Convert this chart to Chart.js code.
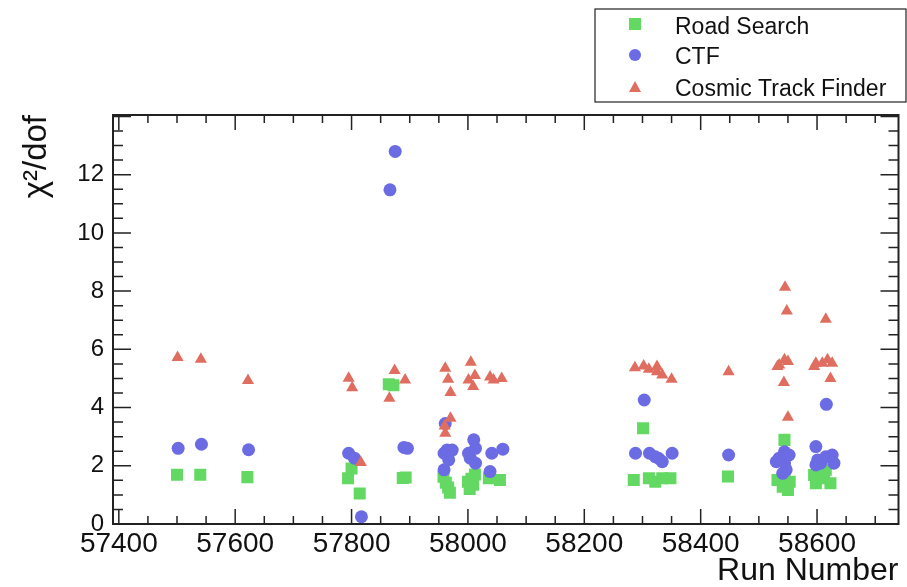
<!DOCTYPE html>
<html lang="en">
<head>
<meta charset="UTF-8">
<title>Track fit chi2/dof per run</title>
<script src="https://cdn.jsdelivr.net/npm/chart.js"></script>
<style>
  html, body { margin: 0; padding: 0; background: white; }
  #chart { display: block; }
</style>
</head>
<body>
<canvas id="chart" width="907" height="587"></canvas>
<script>
// values
const roadRuns = [57500, 57540, 57621, 57794, 57800, 57814, 57864, 57872, 57888, 57893,
  57958, 57962, 57966, 57969, 58000, 58003, 58006, 58009, 58012, 58036, 58055,
  58285, 58301, 58311, 58322, 58334, 58348, 58447,
  58532, 58541, 58544, 58544, 58550, 58553, 58595, 58598, 58612, 58615, 58623];
const roadChi2 = [1.69, 1.69, 1.61, 1.57, 1.91, 1.05, 4.80, 4.77, 1.58, 1.60,
  1.62, 1.42, 1.25, 1.07, 1.45, 1.20, 1.55, 1.35, 1.70, 1.57, 1.51,
  1.51, 3.29, 1.57, 1.45, 1.57, 1.57, 1.63,
  1.51, 1.28, 2.89, 1.63, 1.17, 1.45, 1.68, 1.40, 1.57, 1.86, 1.40];

const ctfRuns = [57502, 57542, 57623, 57795, 57805, 57817, 57866, 57875, 57890, 57896,
  57961, 57959, 57964, 57973, 57967, 57959, 58010, 58013, 58001, 58004, 58013, 58041, 58060, 58038,
  58288, 58303, 58312, 58322, 58328, 58334, 58351, 58448,
  58530, 58535, 58544, 58552, 58544, 58547, 58541,
  58598, 58601, 58606, 58598, 58615, 58616, 58626, 58629];
const ctfChi2 = [2.60, 2.74, 2.55, 2.43, 2.26, 0.25, 11.48, 12.80, 2.63, 2.60,
  3.45, 2.43, 2.54, 2.54, 2.20, 1.86, 2.89, 2.60, 2.43, 2.26, 2.09, 2.43, 2.57, 1.80,
  2.43, 4.26, 2.43, 2.31, 2.25, 2.14, 2.43, 2.37,
  2.14, 2.26, 2.48, 2.37, 2.09, 1.86, 1.74,
  2.66, 2.20, 2.09, 2.03, 2.31, 4.11, 2.37, 2.09];

const cosmicRuns = [57501, 57541, 57622, 57795, 57801, 57816, 57865, 57874, 57892,
  57960, 57961, 57970, 57961, 57966, 57970, 58005, 58001, 58012, 58009, 58038, 58044, 58058,
  58287, 58302, 58311, 58325, 58325, 58334, 58350, 58448,
  58532, 58535, 58544, 58550, 58543, 58550, 58545, 58548,
  58595, 58598, 58609, 58618, 58626, 58623, 58615];
const cosmicChi2 = [5.72, 5.66, 4.93, 5.01, 4.68, 2.11, 4.32, 5.27, 4.95,
  3.37, 3.12, 3.63, 5.35, 4.97, 4.52, 5.56, 4.95, 5.10, 4.72, 5.05, 4.95, 5.00,
  5.37, 5.43, 5.32, 5.41, 5.23, 5.12, 4.97, 5.23,
  5.41, 5.46, 5.64, 5.58, 4.86, 3.67, 8.13, 7.32,
  5.41, 5.52, 5.52, 5.64, 5.52, 5.00, 7.03];

const seriesNames = ['Road Search', 'CTF', 'Cosmic Track Finder'];
const xTickValues = [57400, 57600, 57800, 58000, 58200, 58400, 58600];
const yTickValues = [0, 2, 4, 6, 8, 10, 12];

const GREEN = 'rgb(99,217,99)';
const BLUE = 'rgb(107,107,227)';
const RED = 'rgb(224,110,96)';
const FONT = "'Liberation Sans', Arial, Helvetica, sans-serif";

function toPoints(runs, vals) {
  return runs.map((r, i) => ({ x: r, y: vals[i] }));
}

// ROOT-like frame with ticks on all four sides
const framePlugin = {
  id: 'frame',
  afterDatasetsDraw(chart) {
    const { ctx, chartArea: a, scales: { x, y } } = chart;
    ctx.save();
    ctx.strokeStyle = '#222';
    ctx.lineWidth = 2;
    ctx.strokeRect(a.left, a.top, a.right - a.left, a.bottom - a.top);
    ctx.lineWidth = 1.5;
    ctx.beginPath();
    for (let v = 57400; v <= x.max; v += 50) {
      const px = x.getPixelForValue(v);
      const len = v % 200 === 0 ? 15 : 8;
      ctx.moveTo(px, a.bottom); ctx.lineTo(px, a.bottom - len);
      ctx.moveTo(px, a.top); ctx.lineTo(px, a.top + len);
    }
    for (let v = 0; v <= y.max + 0.001; v += 0.5) {
      const py = y.getPixelForValue(v);
      const len = v % 2 === 0 ? 18 : 10;
      ctx.moveTo(a.left, py); ctx.lineTo(a.left + len, py);
      ctx.moveTo(a.right, py); ctx.lineTo(a.right - len, py);
    }
    ctx.stroke();
    ctx.restore();
  }
};

// boxed legend, top right
const legendPlugin = {
  id: 'boxLegend',
  afterDraw(chart) {
    const ctx = chart.ctx;
    ctx.save();
    ctx.fillStyle = 'white';
    ctx.fillRect(595, 9, 311, 93);
    ctx.strokeStyle = '#222';
    ctx.lineWidth = 1.2;
    ctx.strokeRect(595, 9, 311, 93);

    const mx = 635;
    ctx.fillStyle = GREEN;
    ctx.fillRect(mx - 6, 24 - 6, 12, 12);
    ctx.fillStyle = BLUE;
    ctx.beginPath(); ctx.arc(mx, 55, 6, 0, Math.PI * 2); ctx.fill();
    ctx.fillStyle = RED;
    ctx.beginPath();
    ctx.moveTo(mx, 81); ctx.lineTo(mx + 6, 92); ctx.lineTo(mx - 6, 92); ctx.closePath();
    ctx.fill();

    ctx.fillStyle = '#111';
    ctx.font = '23px ' + FONT;
    ctx.textBaseline = 'alphabetic';
    ctx.fillText(seriesNames[0], 675, 34);
    ctx.fillText(seriesNames[1], 675, 64);
    ctx.fillText(seriesNames[2], 675, 96);
    ctx.restore();
  }
};

new Chart(document.getElementById('chart'), {
  type: 'scatter',
  data: {
    datasets: [
      {
        label: seriesNames[0],
        data: toPoints(roadRuns, roadChi2),
        pointStyle: 'rect',
        pointRadius: 8.5,
        backgroundColor: GREEN,
        borderWidth: 0,
        order: 3
      },
      {
        label: seriesNames[1],
        data: toPoints(ctfRuns, ctfChi2),
        pointStyle: 'circle',
        pointRadius: 6.5,
        backgroundColor: BLUE,
        borderWidth: 0,
        order: 2
      },
      {
        label: seriesNames[2],
        data: toPoints(cosmicRuns, cosmicChi2),
        pointStyle: 'triangle',
        pointRadius: 7,
        backgroundColor: RED,
        borderWidth: 0,
        order: 1
      }
    ]
  },
  options: {
    responsive: false,
    animation: false,
    events: [],
    layout: { padding: { top: 115, right: 2, left: 0, bottom: 0 } },
    plugins: {
      legend: { display: false },
      tooltip: { enabled: false }
    },
    scales: {
      x: {
        type: 'linear',
        min: 57390,
        max: 58740,
        afterFit(s) { s.height = 63; },
        afterBuildTicks(s) { s.ticks = xTickValues.map(v => ({ value: v })); },
        grid: { display: false, drawTicks: false },
        border: { display: false },
        ticks: {
          autoSkip: false,
          maxRotation: 0,
          padding: 3,
          color: '#111',
          font: { family: FONT, size: 28 },
          callback: v => String(v)
        },
        title: {
          display: true,
          text: 'Run Number',
          align: 'end',
          color: '#111',
          font: { family: FONT, size: 32, lineHeight: 1 },
          padding: { top: 0, bottom: 0 }
        }
      },
      y: {
        type: 'linear',
        min: 0,
        max: 14.05,
        afterFit(s) { s.width = 113; },
        afterBuildTicks(s) { s.ticks = yTickValues.map(v => ({ value: v })); },
        grid: { display: false, drawTicks: false },
        border: { display: false },
        ticks: {
          padding: 9,
          color: '#111',
          font: { family: FONT, size: 24 },
          callback: v => String(v)
        },
        title: {
          display: true,
          text: 'χ²/dof',
          align: 'end',
          color: '#111',
          font: { family: FONT, size: 33, lineHeight: 1 },
          padding: { top: 20, bottom: 0 }
        }
      }
    }
  },
  plugins: [framePlugin, legendPlugin]
});
</script>
</body>
</html>
